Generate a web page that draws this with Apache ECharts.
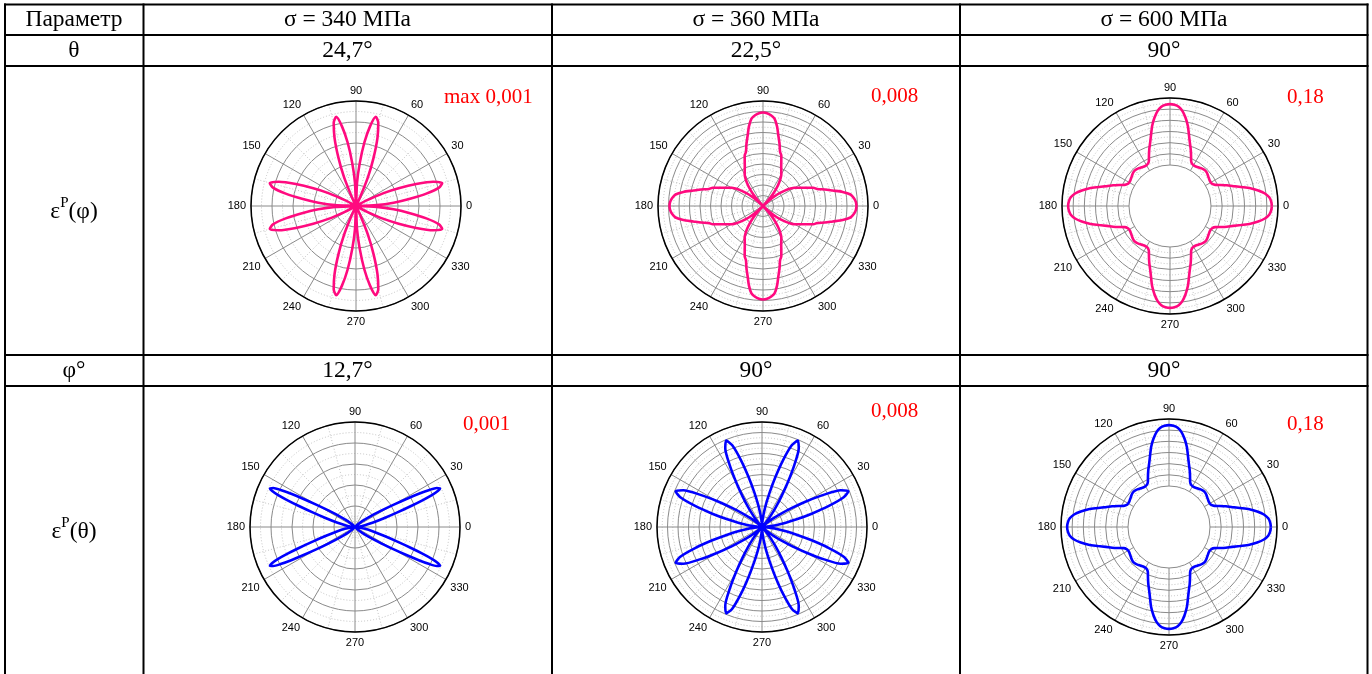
<!DOCTYPE html>
<html>
<head>
<meta charset="utf-8">
<script src="https://cdn.jsdelivr.net/npm/echarts/dist/echarts.min.js"></script>
<style>
  html, body { margin: 0; padding: 0; background: #ffffff; }
  #chart { width: 1372px; height: 674px; }
</style>
</head>
<body>
<div id="chart"></div>
<script>
// ---- Table text ----
const rowHeader = 'Параметр';
const stressLabels = ['σ = 340 МПа', 'σ = 360 МПа', 'σ = 600 МПа'];
const thetaValues = ['24,7°', '22,5°', '90°'];
const phiValues = ['12,7°', '90°', '90°'];
const peakLabelsTop = ['max 0,001', '0,008', '0,18'];
const peakLabelsBottom = ['0,001', '0,008', '0,18'];

// ---- Angular tick labels (degrees) ----
const angleTicks = [0, 30, 60, 90, 120, 150, 180, 210, 240, 270, 300, 330];

// ---- Curves: first-quadrant angles (deg) and plastic strain values.
// Every curve is symmetric about the 0–180 and 90–270 lines.
const quadAngles = [0, 2.5, 5, 7.5, 10, 12.5, 15, 17.5, 20, 22.5, 25, 27.5, 30,
  32.5, 35, 37.5, 40, 42.5, 45, 47.5, 50, 52.5, 55, 57.5, 60, 62.5,
  65, 67.5, 70, 72.5, 75, 77.5, 80, 82.5, 85, 87.5, 90];

// εP(φ), σ = 340 МПа
const epsPhi340 = [0, 0.00020, 0.00036, 0.00051, 0.00068, 0.00081, 0.00085, 0.00077, 0.00061,
  0.00044, 0.00029, 0.00012, 0,
  0, 0, 0, 0, 0, 0, 0, 0, 0, 0, 0, 0, 0,
  0.00009, 0.00030, 0.00049, 0.00068, 0.00082, 0.00087, 0.00077, 0.00061, 0.00041, 0.00022, 0];

// εP(φ), σ = 360 МПа
const epsPhi360 = [0.00712, 0.00708, 0.006944, 0.00672, 0.00616, 0.00544, 0.00488, 0.00432, 0.00408,
  0.00364, 0.00328, 0.003016, 0.002792, 0.00248, 0.00208, 0.00164, 0.00116, 0.0006, 0,
  0.0006, 0.00116, 0.00164, 0.00208, 0.00248, 0.002792, 0.003016, 0.00328, 0.00364, 0.00408,
  0.00432, 0.00488, 0.00544, 0.00616, 0.00672, 0.006944, 0.00708, 0.00712];

// εP(φ), σ = 600 МПа
const epsPhi600 = [0.169, 0.168, 0.165, 0.158, 0.147, 0.134, 0.118, 0.105, 0.095, 0.085,
  0.076, 0.072, 0.071, 0.071, 0.072, 0.073, 0.0745, 0.0757, 0.0762,
  0.0757, 0.0745, 0.073, 0.072, 0.071, 0.071, 0.072, 0.076, 0.085, 0.095,
  0.105, 0.118, 0.134, 0.147, 0.158, 0.165, 0.168, 0.169];

// εP(θ), σ = 340 МПа (own angle grid, narrow lobes)
const thetaAngles340 = [0, 5, 10, 14, 17, 19, 20.5, 21.5, 22.5, 23.5, 24.5, 25.5, 26.5, 27.5,
  28.5, 30, 32, 35, 39, 44, 49, 60, 75, 90];
const epsTheta340 = [0, 0.000027, 0.000089, 0.000178, 0.000294, 0.000427, 0.00057, 0.000685,
  0.000792, 0.000863, 0.00089, 0.000863, 0.000792, 0.000685, 0.00057, 0.000427, 0.000294,
  0.000178, 0.000089, 0.000027, 0, 0, 0, 0];

// εP(θ), σ = 360 МПа
const epsTheta360 = [0, 0.000216, 0.000568, 0.001072, 0.001784, 0.002704, 0.00392, 0.005344,
  0.006624, 0.00712, 0.006624, 0.005344, 0.00392, 0.002704, 0.001784, 0.001072, 0.000568,
  0.000216, 0, 0.000216, 0.000568, 0.001072, 0.001784, 0.002704, 0.00392, 0.005344, 0.006624,
  0.00712, 0.006624, 0.005344, 0.00392, 0.002704, 0.001784, 0.001072, 0.000568, 0.000216, 0];

// εP(θ), σ = 600 МПа
const epsTheta600 = [0.169, 0.168, 0.165, 0.158, 0.147, 0.134, 0.118, 0.105, 0.095, 0.085,
  0.076, 0.072, 0.071, 0.071, 0.072, 0.073, 0.0745, 0.0757, 0.0762,
  0.0757, 0.0745, 0.073, 0.072, 0.071, 0.071, 0.072, 0.076, 0.085, 0.095,
  0.105, 0.118, 0.134, 0.147, 0.158, 0.165, 0.168, 0.169];

// Unfold a first-quadrant curve into the full 0..360° loop as [radius, angle] pairs
function fullLoop(angles, values) {
  const pts = [];
  const n = angles.length;
  for (let i = 0; i < n; i++) pts.push([values[i], angles[i]]);
  for (let i = n - 2; i >= 0; i--) pts.push([values[i], 180 - angles[i]]);
  for (let i = 1; i < n; i++) pts.push([values[i], 180 + angles[i]]);
  for (let i = n - 2; i >= 0; i--) pts.push([values[i], 360 - angles[i]]);
  return pts;
}

// ---- Layout of the table ----
const colX = [5, 143.5, 552, 960, 1367.5];
const rowY = [4.5, 35, 66, 355, 386];
const colCenters = [74, 347.5, 756, 1164];

const SERIF = "'Liberation Serif', 'Times New Roman', serif";
const SANS = "'Liberation Sans', Arial, sans-serif";
const TABLE_FONT = '23.5px ' + SERIF;
const NOTE_FONT = '21px ' + SERIF;
const PINK = '#ff0a7f';
const BLUE = '#0000ff';
const GRID_MAJOR = '#8a8a8a';
const GRID_MINOR = '#c4c4c4';

const plots = [
  { center: [356, 206], radius: [0, 105], min: 0, max: 0.001, interval: 0.0002, data: fullLoop(quadAngles, epsPhi340), color: PINK },
  { center: [763, 206], radius: [0, 105], min: 0, max: 0.008, interval: 0.0008, data: fullLoop(quadAngles, epsPhi360), color: PINK },
  { center: [1170, 206], radius: [41, 108], min: 0.06, max: 0.18, interval: 0.02, data: fullLoop(quadAngles, epsPhi600), color: PINK },
  { center: [355, 527], radius: [0, 105], min: 0, max: 0.001, interval: 0.0002, data: fullLoop(thetaAngles340, epsTheta340), color: BLUE },
  { center: [762, 527], radius: [0, 105], min: 0, max: 0.008, interval: 0.0008, data: fullLoop(quadAngles, epsTheta360), color: BLUE },
  { center: [1169, 527], radius: [41, 108], min: 0.06, max: 0.18, interval: 0.02, data: fullLoop(quadAngles, epsTheta600), color: BLUE }
];

const polar = [];
const angleAxis = [];
const radiusAxis = [];

plots.forEach((p, i) => {
  const hollow = p.radius[0] > 0;
  polar.push({ center: p.center, radius: p.radius });
  angleAxis.push({
    polarIndex: i,
    type: 'value',
    min: 0,
    max: 360,
    interval: 30,
    startAngle: 0,
    clockwise: false,
    axisLine: { show: !hollow, lineStyle: { color: '#000', width: 1.5 } },
    axisTick: { show: false },
    minorTick: { show: false, splitNumber: 2 },
    axisLabel: {
      margin: 5,
      color: '#000',
      fontFamily: SANS,
      fontSize: 11,
      showMaxLabel: false,
      formatter: v => (angleTicks.indexOf(v) >= 0 ? String(v) : '')
    },
    splitLine: { show: true, lineStyle: { color: GRID_MAJOR, width: 1 } },
    minorSplitLine: { show: true, lineStyle: { color: GRID_MINOR, width: 1, type: [1, 2] } }
  });
  radiusAxis.push({
    polarIndex: i,
    type: 'value',
    min: p.min,
    max: p.max,
    interval: p.interval,
    axisLine: { show: false },
    axisTick: { show: false },
    axisLabel: { show: false },
    minorTick: { show: false, splitNumber: 2 },
    splitLine: { show: true, lineStyle: { color: GRID_MAJOR, width: 1 } },
    minorSplitLine: { show: true, lineStyle: { color: GRID_MINOR, width: 1, type: [1, 2] } }
  });
});

// Outer black rim for the plots whose radial scale starts away from the centre
plots.forEach(p => {
  if (p.radius[0] === 0) return;
  const k = polar.length;
  polar.push({ center: p.center, radius: [0, p.radius[1]] });
  angleAxis.push({
    polarIndex: k, type: 'value', min: 0, max: 360, startAngle: 0, clockwise: false,
    axisLine: { show: true, lineStyle: { color: '#000', width: 1.5 } },
    axisTick: { show: false }, axisLabel: { show: false }, splitLine: { show: false }
  });
  radiusAxis.push({
    polarIndex: k, type: 'value', min: 0, max: 1,
    axisLine: { show: false }, axisTick: { show: false }, axisLabel: { show: false }, splitLine: { show: false }
  });
});

const series = plots.map((p, i) => ({
  type: 'line',
  coordinateSystem: 'polar',
  polarIndex: i,
  data: p.data,
  showSymbol: false,
  smooth: 0.25,
  silent: true,
  lineStyle: { color: p.color, width: 2.6 },
  z: 5
}));

// ---- Table lines and cell text ----
const graphics = [];
function hLine(y, x1, x2) {
  graphics.push({ type: 'line', shape: { x1: x1, y1: y, x2: x2, y2: y }, style: { stroke: '#000', lineWidth: 2 }, z: 10 });
}
function vLine(x, y1, y2) {
  graphics.push({ type: 'line', shape: { x1: x, y1: y1, x2: x, y2: y2 }, style: { stroke: '#000', lineWidth: 2 }, z: 10 });
}
rowY.forEach(y => hLine(y, colX[0] - 1, colX[4] + 1));
colX.forEach(x => vLine(x, rowY[0] - 1, 674));

function cellText(text, x, y, opts) {
  graphics.push({
    type: 'text', x: x, y: y, z: 10,
    style: Object.assign({
      text: text, fill: '#000', font: TABLE_FONT,
      align: 'center', verticalAlign: 'middle'
    }, opts || {})
  });
}

const yHeader = (rowY[0] + rowY[1]) / 2 + 0.5;
const yTheta = (rowY[1] + rowY[2]) / 2 + 0.5;
const yPhi = (rowY[3] + rowY[4]) / 2 + 0.5;

cellText(rowHeader, colCenters[0], yHeader);
cellText('θ', colCenters[0], yTheta);
cellText('φ°', colCenters[0], yPhi);
stressLabels.forEach((t, i) => cellText(t, colCenters[i + 1], yHeader));
thetaValues.forEach((t, i) => cellText(t, colCenters[i + 1], yTheta));
phiValues.forEach((t, i) => cellText(t, colCenters[i + 1], yPhi));

// Row captions with superscript P
function strainCaption(arg, y) {
  graphics.push({
    type: 'text', x: colCenters[0], y: y, z: 10,
    style: {
      text: '{m|ε}{s|P}{m|(' + arg + ')}',
      align: 'center', verticalAlign: 'middle',
      rich: {
        m: { fontFamily: SERIF, fontSize: 23.5, lineHeight: 28, verticalAlign: 'bottom', fill: '#000' },
        s: { fontFamily: SERIF, fontSize: 15, lineHeight: 17, verticalAlign: 'top', fill: '#000' }
      }
    }
  });
}
strainCaption('φ', 210);
strainCaption('θ', 530);

// Peak value annotations in red
const peakTopPos = [[444, 97], [871, 96], [1287, 97]];
const peakBottomPos = [[463, 424], [871, 411], [1287, 424]];
peakLabelsTop.forEach((t, i) => cellText(t, peakTopPos[i][0], peakTopPos[i][1], { fill: '#ff0000', align: 'left', font: NOTE_FONT }));
peakLabelsBottom.forEach((t, i) => cellText(t, peakBottomPos[i][0], peakBottomPos[i][1], { fill: '#ff0000', align: 'left', font: NOTE_FONT }));

const chart = echarts.init(document.getElementById('chart'), null, { renderer: 'canvas', width: 1372, height: 674 });
chart.setOption({
  animation: false,
  backgroundColor: '#ffffff',
  polar: polar,
  angleAxis: angleAxis,
  radiusAxis: radiusAxis,
  series: series,
  graphic: { elements: graphics }
});
</script>
</body>
</html>
